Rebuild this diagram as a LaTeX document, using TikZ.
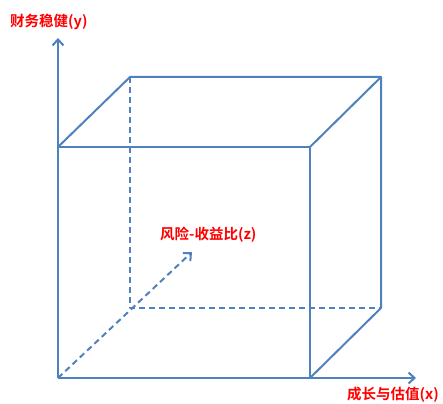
\documentclass[tikz,border=0pt]{standalone}
\usepackage{fontspec}
\newfontfamily\cjk{Noto Sans CJK SC}[BoldFont={* Bold}]
\usetikzlibrary{arrows.meta}
\definecolor{edgeblue}{HTML}{4F81BD}
\definecolor{labred}{HTML}{FF0000}
\tikzset{
  edge/.style={draw=edgeblue, line width=2pt, line join=round},
  hidden/.style={edge, dash pattern=on 6pt off 4pt},
  axis/.style={edge, -{Straight Barb[length=6pt,width=11pt,line width=2pt]}},
  lab/.style={text=labred, font=\cjk\bfseries\fontsize{14.5}{16}\selectfont, inner sep=0pt}
}
\begin{document}
\begin{tikzpicture}[x=1pt,y=-1pt]
\useasboundingbox (0,0) rectangle (443,403);
% front face corners
\coordinate (O) at (58,378);
\coordinate (FTL) at (58,147);
\coordinate (FTR) at (310,147);
\coordinate (FBR) at (310,378);
% back face corners
\coordinate (BTL) at (130,77);
\coordinate (BTR) at (381,77);
\coordinate (BBR) at (381,308);
\coordinate (BBL) at (130,308);
% axis ends
\coordinate (Yend) at (58,38);
\coordinate (Xend) at (416,378);
\coordinate (Zend) at (192,252);
% hidden edges
\draw[hidden] (BTL) -- (BBL) -- (BBR);
\draw[hidden, -{Straight Barb[length=6pt,width=11pt,line width=2pt]}] (O) -- (Zend);
% visible edges
\draw[edge] (FTL) -- (FTR) -- (FBR);
\draw[edge] (FTL) -- (BTL) -- (BTR) -- (BBR) -- (FBR);
\draw[edge] (FTR) -- (BTR);
% axes
\draw[axis] (O) -- (Yend);
\draw[axis] (O) -- (Xend);
% labels
\node[lab, anchor=west] (ylab) at (10,22) {财务稳健(y)};
\node[lab, anchor=west] (zlab) at (160,235) {风险-收益比(z)};
\node[lab, anchor=west] (xlab) at (347,395) {成长与估值(x)};
\end{tikzpicture}
\end{document}
